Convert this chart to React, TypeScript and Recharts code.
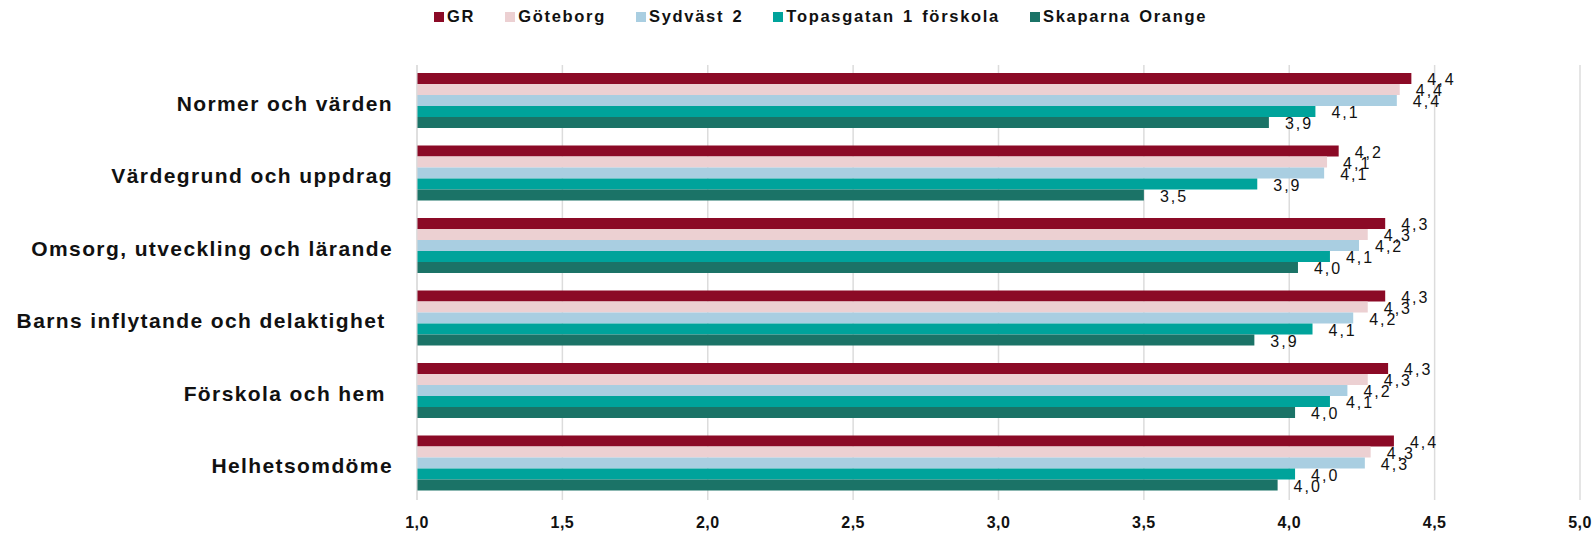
import React, { useEffect } from 'react';
import {
  BarChart,
  Bar,
  XAxis,
  YAxis,
  CartesianGrid,
  Legend,
  LabelList,
} from 'recharts';

const categories = [
  'Normer och värden',
  'Värdegrund och uppdrag',
  'Omsorg, utveckling och lärande',
  'Barns inflytande och delaktighet ',
  'Förskola och hem ',
  'Helhetsomdöme',
];

const grValues = [4.42, 4.17, 4.33, 4.33, 4.34, 4.36];
const goteborgValues = [4.38, 4.13, 4.27, 4.27, 4.27, 4.28];
const sydvastValues = [4.37, 4.12, 4.24, 4.22, 4.2, 4.26];
const topasValues = [4.09, 3.89, 4.14, 4.08, 4.14, 4.02];
const skaparnaValues = [3.93, 3.5, 4.03, 3.88, 4.02, 3.96];

const xTicks = [1, 1.5, 2, 2.5, 3, 3.5, 4, 4.5, 5];

const series = [
  { key: 'GR', name: 'GR', color: '#8B0A26', values: grValues },
  { key: 'gbg', name: 'Göteborg', color: '#ECD0D2', values: goteborgValues },
  { key: 'syd', name: 'Sydväst 2', color: '#A9CEE1', values: sydvastValues },
  { key: 'topas', name: 'Topasgatan 1 förskola', color: '#00A39B', values: topasValues },
  { key: 'skap', name: 'Skaparna Orange', color: '#1B7367', values: skaparnaValues },
];

const chartData = categories.map((name, i) => {
  const row: Record<string, string | number> = { name };
  series.forEach((s) => {
    row[s.key] = s.values[i];
  });
  return row;
});

const FONT = '"Liberation Sans", Arial, Helvetica, sans-serif';

function fmt(v: number): string {
  return v.toFixed(1).replace('.', ',');
}

// eslint-disable-next-line @typescript-eslint/no-explicit-any
function CategoryTick({ y, payload }: any) {
  return (
    <text
      x={393}
      y={y + 2}
      textAnchor="end"
      dominantBaseline="central"
      fontFamily={FONT}
      fontSize={21}
      fontWeight={700}
      letterSpacing={1.4}
      fill="#111"
      style={{ whiteSpace: 'pre' }}
    >
      {payload.value}
    </text>
  );
}

// eslint-disable-next-line @typescript-eslint/no-explicit-any
function ValueTick({ x, y, payload }: any) {
  return (
    <text
      x={x}
      y={y + 22}
      textAnchor="middle"
      dominantBaseline="central"
      fontFamily={FONT}
      fontSize={16}
      fontWeight={700}
      letterSpacing={0.5}
      fill="#111"
    >
      {fmt(payload.value)}
    </text>
  );
}

// eslint-disable-next-line @typescript-eslint/no-explicit-any
function ValueLabel({ x, y, width, height, value }: any) {
  return (
    <text
      x={x + width + 16}
      y={y + height / 2 + 1}
      dominantBaseline="central"
      fontFamily={FONT}
      fontSize={16}
      letterSpacing={2}
      fill="#111"
    >
      {fmt(value)}
    </text>
  );
}

function LegendContent() {
  return (
    <div style={{ display: 'flex', alignItems: 'center', fontFamily: FONT }}>
      {series.map((s) => (
        <div key={s.key} style={{ display: 'flex', alignItems: 'center', marginRight: 30 }}>
          <span style={{ width: 10, height: 10, background: s.color, display: 'inline-block', marginRight: 3 }} />
          <span style={{ fontSize: 16.5, fontWeight: 700, letterSpacing: 1.7, wordSpacing: 2, color: '#111' }}>
            {s.name}
          </span>
        </div>
      ))}
    </div>
  );
}

export default function App() {
  useEffect(() => {
    document.body.style.margin = '0';
  }, []);

  return (
    <div style={{ width: 1595, height: 533, background: '#fff' }}>
      <BarChart
        width={1595}
        height={533}
        data={chartData}
        layout="vertical"
        margin={{ top: 65, right: 15, left: 0, bottom: 0 }}
        barCategoryGap={8}
        barGap={0}
      >
        <CartesianGrid horizontal={false} stroke="#dcdcdc" strokeWidth={1.5} />
        <XAxis
          type="number"
          domain={[1, 5]}
          ticks={xTicks}
          tick={<ValueTick />}
          tickLine={false}
          axisLine={false}
          tickSize={0}
          tickMargin={0}
          height={33}
          interval={0}
        />
        <YAxis
          type="category"
          dataKey="name"
          width={417}
          tick={<CategoryTick />}
          tickLine={false}
          axisLine={{ stroke: '#d9d9d9' }}
        />
        <Legend
          verticalAlign="middle"
          layout="horizontal"
          content={<LegendContent />}
          wrapperStyle={{ top: 7, left: 434, width: 1100, height: 20 }}
        />
        {series.map((s) => (
          <Bar key={s.key} dataKey={s.key} name={s.name} fill={s.color} isAnimationActive={false}>
            <LabelList dataKey={s.key} content={<ValueLabel />} />
          </Bar>
        ))}
      </BarChart>
    </div>
  );
}
